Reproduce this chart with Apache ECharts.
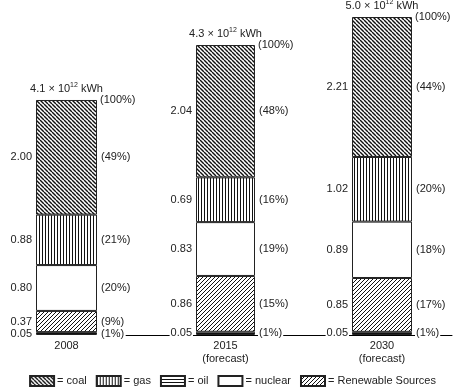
<!DOCTYPE html>
<html>
<head>
<meta charset="utf-8">
<script src="https://cdn.jsdelivr.net/npm/echarts@6/dist/echarts.min.js"></script>
<style>
html,body{margin:0;padding:0;background:#fff;}
#chart{width:465px;height:392px;}
</style>
</head>
<body>
<div id="chart"></div>
<script>
// data, 10^12 kWh
const years = ['2008', '2015', '2030'];
const yearNotes = ['', '(forecast)', '(forecast)'];
const totals = ['4.1', '4.3', '5.0'];
const oil = [0.05, 0.05, 0.05];
const renewable = [0.37, 0.86, 0.85];
const nuclear = [0.80, 0.83, 0.89];
const gas = [0.88, 0.69, 1.02];
const coal = [2.00, 2.04, 2.21];
// shares in %
const oilPct = [1, 1, 1];
const renewablePct = [9, 15, 17];
const nuclearPct = [20, 19, 18];
const gasPct = [21, 16, 20];
const coalPct = [49, 48, 44];

const legendNames = ['coal', 'gas', 'oil', 'nuclear', 'Renewable Sources'];

// hatch fills
function tile(w, h, draw) {
  const c = document.createElement('canvas');
  c.width = w; c.height = h;
  const ctx = c.getContext('2d');
  ctx.fillStyle = '#fff';
  ctx.fillRect(0, 0, w, h);
  ctx.fillStyle = '#111';
  ctx.strokeStyle = '#111';
  draw(ctx);
  return { image: c, repeat: 'repeat' };
}
const coalFill = tile(4, 4, ctx => {
  ctx.lineWidth = 1.4;
  for (let k = -1; k <= 1; k++) {
    ctx.beginPath(); ctx.moveTo(k * 4, 0); ctx.lineTo(k * 4 + 4, 4); ctx.stroke();
  }
});
const renewFill = tile(4, 4, ctx => {
  ctx.lineWidth = 1;
  for (let k = -1; k <= 1; k++) {
    ctx.beginPath(); ctx.moveTo(k * 4, 4); ctx.lineTo(k * 4 + 4, 0); ctx.stroke();
  }
});
const gasFill = tile(3, 3, ctx => ctx.fillRect(0, 0, 1, 3));
const oilFill = tile(3, 3, ctx => ctx.fillRect(0, 0, 3, 1));

const fuels = [
  { name: 'oil', values: oil, pct: oilPct, fill: oilFill },
  { name: 'Renewable Sources', values: renewable, pct: renewablePct, fill: renewFill },
  { name: 'nuclear', values: nuclear, pct: nuclearPct, fill: '#fff' },
  { name: 'gas', values: gas, pct: gasPct, fill: gasFill },
  { name: 'coal', values: coal, pct: coalPct, fill: coalFill }
];

// one grid per bar, the baseline in its own grid
const barLeft = [36, 196, 352];
const barW = [61, 59, 60];
const barTop = [100, 45, 17];

const grids = [], xAxes = [], yAxes = [], series = [];
years.forEach((y, i) => {
  grids.push({ left: barLeft[i], width: barW[i], top: barTop[i], bottom: 57 });
  xAxes.push({
    type: 'category', gridIndex: i, data: [y],
    axisLine: { show: false }, axisTick: { show: false },
    axisLabel: {
      margin: 4, lineHeight: 13, fontSize: 11, color: '#222',
      formatter: v => v + (yearNotes[i] ? '\n' + yearNotes[i] : '')
    }
  });
  let sum = 0;
  fuels.forEach(f => sum += f.values[i]);
  yAxes.push({ type: 'value', gridIndex: i, min: 0, max: sum, show: false });

  fuels.forEach(f => {
    const isOil = f.name === 'oil';
    series.push({
      type: 'bar', name: f.name, xAxisIndex: i, yAxisIndex: i, stack: 'v' + i,
      barWidth: '100%', barGap: '-100%',
      data: [f.values[i]],
      itemStyle: { color: f.fill, borderColor: '#222', borderWidth: 1 },
      label: {
        show: true, position: 'left', distance: 3, fontSize: 11, color: '#222',
        backgroundColor: isOil ? '#fff' : 'transparent', padding: [0, 1],
        formatter: p => p.value.toFixed(2)
      },
      emphasis: { disabled: true }
    });
    series.push({
      type: 'bar', name: f.name + ' share', xAxisIndex: i, yAxisIndex: i, stack: 'p' + i,
      barWidth: '100%', barGap: '-100%',
      data: [f.values[i]],
      itemStyle: { color: 'transparent' },
      label: {
        show: true, position: 'right', distance: 3, fontSize: 11, color: '#222',
        backgroundColor: isOil ? '#fff' : 'transparent', padding: [0, 1],
        formatter: '(' + f.pct[i] + '%)'
      },
      silent: true, emphasis: { disabled: true }
    });
  });
  // totals on top of each stack
  series.push({
    type: 'bar', name: 'total', xAxisIndex: i, yAxisIndex: i, stack: 'v' + i,
    barWidth: '100%', barGap: '-100%', data: [0],
    itemStyle: { color: 'transparent', borderWidth: 0 },
    label: {
      show: true, position: 'top', distance: 4,
      formatter: '{t|' + totals[i] + ' × 10}{s|12}{t| kWh}',
      rich: {
        t: { fontSize: 11, color: '#222', lineHeight: 14 },
        s: { fontSize: 7, color: '#222', lineHeight: 8, verticalAlign: 'top' }
      }
    },
    silent: true, emphasis: { disabled: true }
  });
  series.push({
    type: 'bar', name: 'total share', xAxisIndex: i, yAxisIndex: i, stack: 'p' + i,
    barWidth: '100%', barGap: '-100%', data: [0],
    itemStyle: { color: 'transparent', borderWidth: 0 },
    label: { show: true, position: 'right', distance: 3, fontSize: 11, color: '#222', formatter: '(100%)' },
    silent: true, emphasis: { disabled: true }
  });
});

// baseline
grids.push({ left: 126, right: 13, bottom: 57, height: 1 });
xAxes.push({
  type: 'value', gridIndex: 3,
  axisLine: { show: true, onZero: false, lineStyle: { color: '#000', width: 1 } },
  axisTick: { show: false }, axisLabel: { show: false }, splitLine: { show: false }
});
yAxes.push({ type: 'value', gridIndex: 3, show: false });

const myChart = echarts.init(document.getElementById('chart'));
const option = {
  animation: false,
  backgroundColor: '#fff',
  textStyle: { fontFamily: 'Liberation Sans, Arial, sans-serif' },
  legend: {
    data: legendNames,
    bottom: 0, left: 'center',
    icon: 'rect', itemWidth: 24, itemHeight: 10, itemGap: 9,
    selectedMode: false,
    formatter: '= {name}',
    textStyle: { fontSize: 11, color: '#222', padding: [0, 0, 0, -2] }
  },
  grid: grids,
  xAxis: xAxes,
  yAxis: yAxes,
  series: series
};
myChart.setOption(option);
window.onresize = function () {
  myChart.resize();
};
</script>
</body>
</html>
